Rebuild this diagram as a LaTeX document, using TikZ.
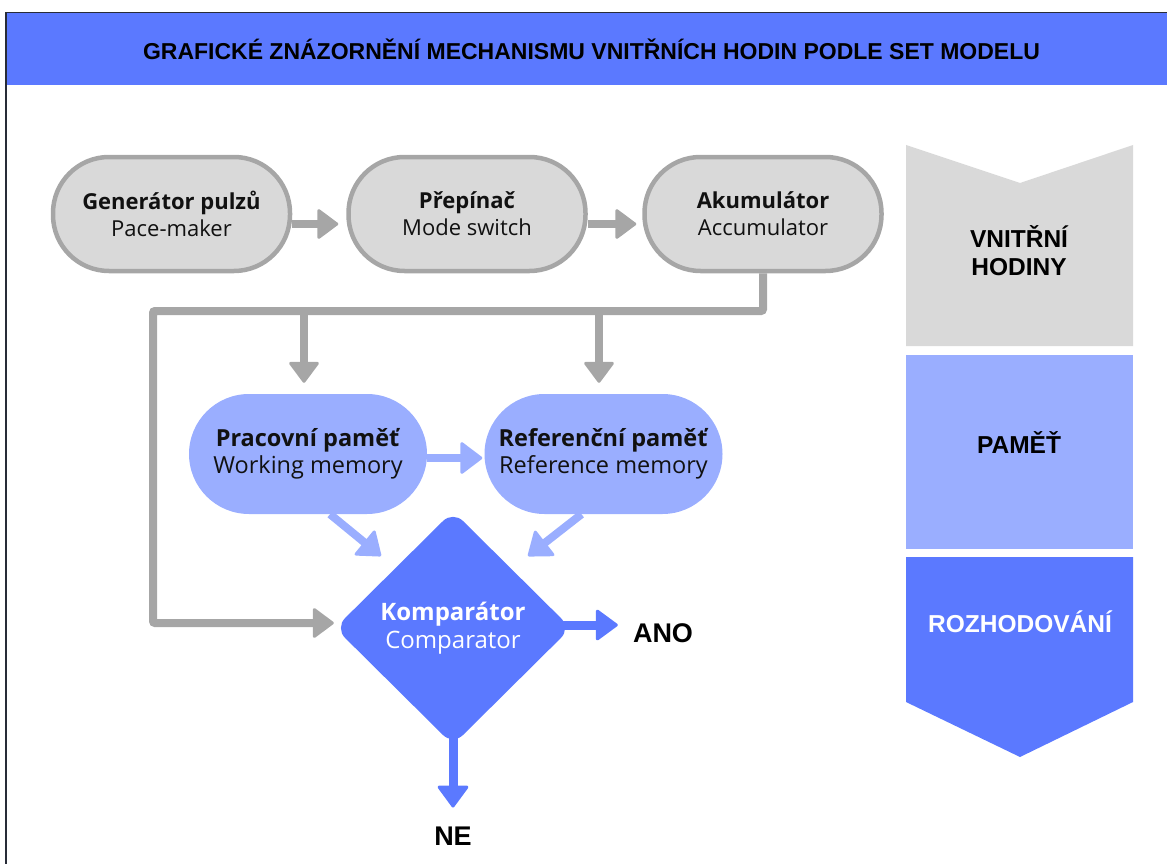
\documentclass[tikz,border=0pt]{standalone}
\usepackage{fontspec}
\setmainfont{Open Sans}
\newfontfamily\arialf{Liberation Sans}
\usetikzlibrary{arrows.meta,shapes.geometric}
\definecolor{cblue}{RGB}{91,121,255}
\definecolor{clblue}{RGB}{154,174,255}
\definecolor{cgfill}{RGB}{217,217,217}
\definecolor{cgline}{RGB}{166,166,166}
\definecolor{cframe}{RGB}{40,44,56}
\definecolor{ctext}{RGB}{17,17,17}
\begin{document}
\begin{tikzpicture}[x=1pt,y=-1pt,
  stadium/.style={font=\fontsize{22}{27}\selectfont, draw=cgline, line width=4.5pt, fill=cgfill, rounded corners=56pt,
    minimum width=237pt, minimum height=114pt, align=center, inner sep=0pt, text=ctext},
  memnode/.style={font=\fontsize{23.5}{27}\selectfont, fill=clblue, rounded corners=60pt,
    minimum width=238pt, minimum height=120pt, align=center, inner sep=0pt, text=ctext},
  cmpnode/.style={font=\fontsize{24}{28}\selectfont, diamond, fill=cblue, rounded corners=14pt,
    minimum width=236pt, minimum height=234pt, align=center, inner sep=0pt, text=white},
  gar/.style={draw=cgline, line width=8pt, -{Triangle[round, length=22pt, width=32pt, line width=3pt]}},
  lbar/.style={draw=clblue, line width=8pt, -{Triangle[round, length=23pt, width=34pt, line width=3pt]}},
  bar/.style={draw=cblue, line width=9pt, -{Triangle[round, length=23pt, width=33pt, line width=3pt]}},
  biglabel/.style={font=\arialf\bfseries\fontsize{24.5}{28}\selectfont, align=center, inner sep=0pt},
  outlabel/.style={font=\arialf\bfseries\fontsize{27}{30}\selectfont, inner sep=0pt, text=black}
]
\useasboundingbox (0,0) rectangle (1167,864);
% title bar and frame
\fill[cblue] (5,13) rectangle (1167,85);
\draw[cframe, line width=1.8pt] (6,864) -- (6,12.5) -- (1167,12.5);
\node[font=\arialf\bfseries\fontsize{23}{27}\selectfont, text=black, inner sep=0pt] (title) at (591.5,49)
  {GRAFICKÉ ZNÁZORNĚNÍ MECHANISMU VNITŘNÍCH HODIN PODLE SET MODELU};

% top row
\node[stadium] (gen) at (171.5,214) {\textbf{Generátor pulzů}\\Pace-maker};
\node[stadium] (sw)  at (467,214) {\textbf{Přepínač}\\Mode switch};
\node[stadium] (acc) at (763,214) {\textbf{Akumulátor}\\Accumulator};

% memory row
\node[memnode] (wm) at (308,454) {\textbf{Pracovní paměť}\\Working memory};
\node[memnode] (rm) at (603.5,454) {\textbf{Referenční paměť}\\Reference memory};

% comparator
\node[cmpnode] (cmp) at (453,628) {\textbf{Komparátor}\\Comparator};
\node[outlabel] (ano) at (663,633) {ANO};
\node[outlabel] (ne) at (453,836) {NE};

% coordinates
\coordinate (bl) at (153,311);
\coordinate (d1) at (304,311);
\coordinate (d2) at (599,311);
\coordinate (t1) at (381,556);
\coordinate (t2) at (528,556);

% grey connectors
\draw[gar, shorten >=8pt] ([yshift=-10pt]gen.east) -- ([yshift=-10pt]sw.west);
\draw[gar, shorten >=6pt] ([yshift=-10pt]sw.east) -- ([yshift=-10pt]acc.west);
\draw[gar, rounded corners=2pt, shorten >=1pt] (acc.south) |- (bl) |- ([yshift=5pt]cmp.west);
\draw[gar, shorten >=11pt] (d1) -- (d1 |- wm.north);
\draw[gar, shorten >=11pt] (d2) -- (d2 |- rm.north);

% light blue connectors
\draw[lbar, shorten >=2pt] ([yshift=-4pt]wm.east) -- ([yshift=-4pt]rm.west);
\draw[lbar] ([xshift=22pt]wm.south) -- (t1);
\draw[lbar] ([xshift=-22pt]rm.south) -- (t2);

% blue connectors
\draw[bar, shorten >=15pt] ([xshift=-12pt,yshift=3pt]cmp.east) -- ([yshift=3pt]cmp.east -| ano.west);
\draw[bar, shorten >=19pt] ([yshift=12pt]cmp.south) -- (cmp.south |- ne.north);

% right column
\fill[cgfill] (906,145) -- (1020,183) -- (1133,145) -- (1133,346) -- (906,346) -- cycle;
\fill[clblue] (906,355) rectangle (1133,549);
\fill[cblue] (906,557) -- (1133,557) -- (1133,702) -- (1020,757) -- (906,702) -- cycle;
\node[biglabel, text=black] (vh) at (1019,251) {VNITŘNÍ\\HODINY};
\node[biglabel, text=black] (pm) at (1019,443) {PAMĚŤ};
\node[biglabel, text=white] (rz) at (1020,622) {ROZHODOVÁNÍ};
\end{tikzpicture}
\end{document}
